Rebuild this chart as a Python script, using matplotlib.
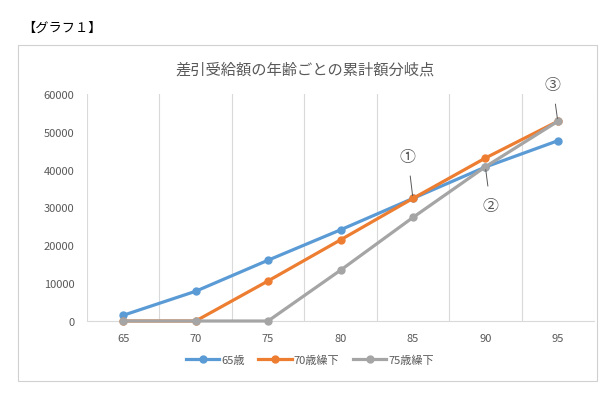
import matplotlib
matplotlib.use('Agg')
import matplotlib.pyplot as plt
import matplotlib.patches as mpatches

plt.rcParams['font.family'] = ['Noto Sans CJK JP', 'DejaVu Sans']

ages = ['65', '70', '75', '80', '85', '90', '95']
series_names = ['65歳', '70歳繰下', '75歳繰下']
val_65 = [1510, 7860, 16070, 24090, 32400, 40700, 47640]
val_70 = [0, 0, 10590, 21440, 32400, 43070, 52780]
val_75 = [0, 0, 0, 13420, 27370, 40760, 52780]
colors = ['#5B9BD5', '#ED7D31', '#A5A5A5']

title = '差引受給額の年齢ごとの累計額分岐点'
heading = '【グラフ１】'

W, H = 614, 406
fig = plt.figure(figsize=(W / 100, H / 100), dpi=100)

# outer chart frame
fig.patches.append(mpatches.Rectangle((18 / W, 1 - 382 / H), (597 - 18) / W, (382 - 46) / H,
                                      transform=fig.transFigure, fill=False,
                                      edgecolor='#d0d0d0', linewidth=0.8))
fig.text(22 / W, 1 - 28 / H, heading, fontsize=9.5, color='#000000', va='center', ha='left')
fig.text(305 / W, 1 - 70 / H, title, fontsize=11, color='#595959', va='center', ha='center')

ax = fig.add_axes([87 / W, 1 - 322 / H, (594 - 87) / W, (322 - 95) / H])
x = list(range(len(ages)))
for name, vals, c in zip(series_names, [val_65, val_70, val_75], colors):
    ax.plot(x, vals, color=c, linewidth=2.3, marker='o', markersize=5, label=name,
            zorder=3, clip_on=False)

ax.set_xlim(-0.5, len(ages) - 0.5)
ax.set_ylim(0, 60000)
ax.set_yticks(range(0, 60001, 10000))
ax.set_xticks(x)
ax.set_xticklabels(ages)
for b in [i - 0.5 for i in range(len(ages) + 1)]:
    ax.axvline(b, color='#d9d9d9', linewidth=0.8, zorder=1)
for s in ['top', 'right', 'left']:
    ax.spines[s].set_visible(False)
ax.spines['bottom'].set_color('#d9d9d9')
ax.tick_params(axis='both', length=0, labelsize=8, labelcolor='#595959')
ax.tick_params(axis='y', pad=9)
ax.tick_params(axis='x', pad=9)

# crossing point markers
ann = dict(fontsize=11.5, color='#595959', ha='center', va='center',
           arrowprops=dict(arrowstyle='-', color='#595959', linewidth=0.7, shrinkA=6, shrinkB=2))
ax.annotate('①', xy=(4, val_65[4]), xytext=(3.93, 43500), **ann)
ax.annotate('②', xy=(5, val_75[5]), xytext=(5.07, 30500), **ann)
ax.annotate('③', xy=(6, val_75[6]), xytext=(5.93, 62500), annotation_clip=False, **ann)

fig.legend(loc='center', bbox_to_anchor=(310 / W, 1 - 361 / H), ncol=3, frameon=False,
           fontsize=8, labelcolor='#595959', handlelength=3, columnspacing=1.2, handletextpad=0.2)

fig.savefig('out.png', dpi=100)
